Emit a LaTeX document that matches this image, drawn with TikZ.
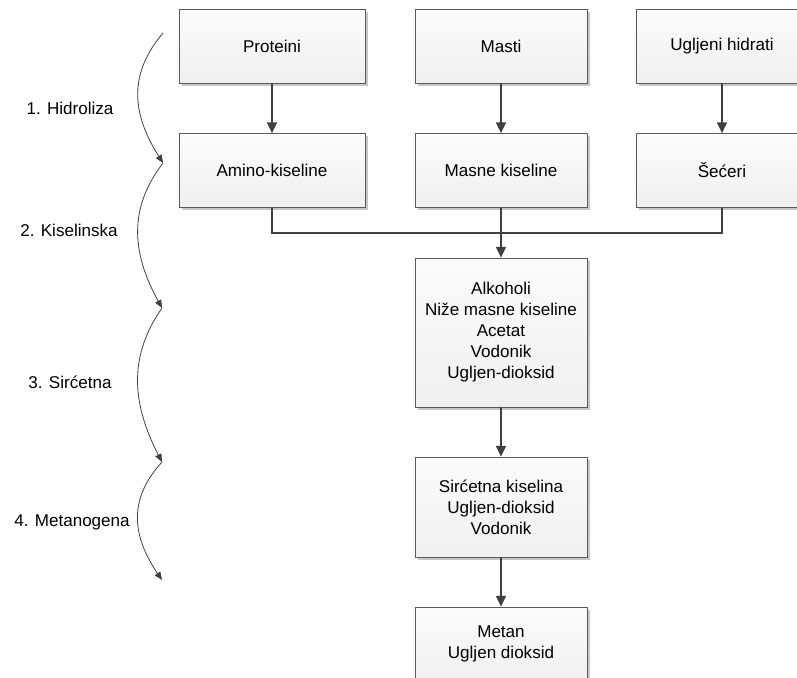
\documentclass[tikz,border=0pt]{standalone}
\usepackage{fontspec}
\setmainfont{Liberation Sans}
\usetikzlibrary{arrows.meta,shadows}

\definecolor{linegray}{HTML}{404040}
\definecolor{boxedge}{HTML}{5A5A5A}

\tikzset{
  stagebox/.style={
    draw=boxedge, line width=0.6pt, rectangle, inner sep=0pt,
    top color=gray!3, bottom color=gray!12,
    drop shadow={shadow xshift=2.2pt, shadow yshift=-2.2pt, fill=black!22, opacity=1},
    align=center, font=\fontsize{12.8pt}{15.75pt}\selectfont
  },
  widebox/.style={stagebox, minimum width=139.5pt, minimum height=55.5pt},
  stdbox/.style={stagebox, minimum width=129pt, minimum height=55.5pt},
  flow/.style={draw=linegray, line width=1pt, -{Triangle[length=8pt,width=7.5pt]}},
  bus/.style={draw=linegray, line width=1pt},
  phase/.style={draw=linegray, line width=0.6pt, -{Triangle[length=6pt,width=5pt]}},
  phaselabel/.style={font=\fontsize{12.8pt}{15pt}\selectfont, inner sep=0pt}
}

\begin{document}
\begin{tikzpicture}[x=0.75pt, y=-0.75pt]
  \useasboundingbox (0,0) rectangle (797,678);
  \clip (0,0) rectangle (797,678);

  % substrates
  \node[widebox] (prot) at (272,46) {Proteini};
  \node[stdbox]  (mast) at (501,46) {Masti};
  \node[stdbox]  (ugh)  at (722,46) {Ugljeni hidrati};

  % hydrolysis products
  \node[widebox] (amino) at (272,170.5) {Amino-kiseline};
  \node[stdbox]  (masne) at (501,170.5) {Masne kiseline};
  \node[stdbox]  (sec)   at (722,170.5) {Šećeri};

  % downstream products
  \node[stdbox, minimum height=111.75pt] (alk) at (501,332.5)
    {Alkoholi\\Niže masne kiseline\\Acetat\\Vodonik\\Ugljen-dioksid};
  \node[stdbox, minimum height=75pt] (sirc) at (501,507)
    {Sirćetna kiselina\\Ugljen-dioksid\\Vodonik};
  \node[stdbox] (metan) at (501,644)
    {Metan\\Ugljen dioksid};

  % collecting line
  \coordinate (busy) at (0,233);

  \draw[flow] (prot) -- (amino);
  \draw[flow] (mast) -- (masne);
  \draw[flow] (ugh) -- (sec);
  \draw[bus] (amino.south) -- (amino.south |- busy) -- (sec.south |- busy) -- (sec.south);
  \draw[flow] (masne) -- (alk);
  \draw[flow] (alk) -- (sirc);
  \draw[flow] (sirc) -- (metan);

  % phase markers
  \coordinate (p0) at (163,33);
  \coordinate (p1) at (163,163);
  \coordinate (p2) at (162,308);
  \coordinate (p3) at (162,462);
  \coordinate (p4) at (162,580);

  \draw[phase] (p0) .. controls (130,72) and (130,111) .. (p1);
  \draw[phase] (p1) .. controls (130,206) and (130,250) .. (p2);
  \draw[phase] (p2) .. controls (130,354) and (130,400) .. (p3);
  \draw[phase] (p3) .. controls (130,497) and (130,533) .. (p4);

  \node[phaselabel] (l1) at (70,108) {1. Hidroliza};
  \node[phaselabel] (l2) at (69,230) {2. Kiselinska};
  \node[phaselabel] (l3) at (70,382) {3. Sirćetna};
  \node[phaselabel] (l4) at (72,522) {4. Metanogena};
\end{tikzpicture}
\end{document}
